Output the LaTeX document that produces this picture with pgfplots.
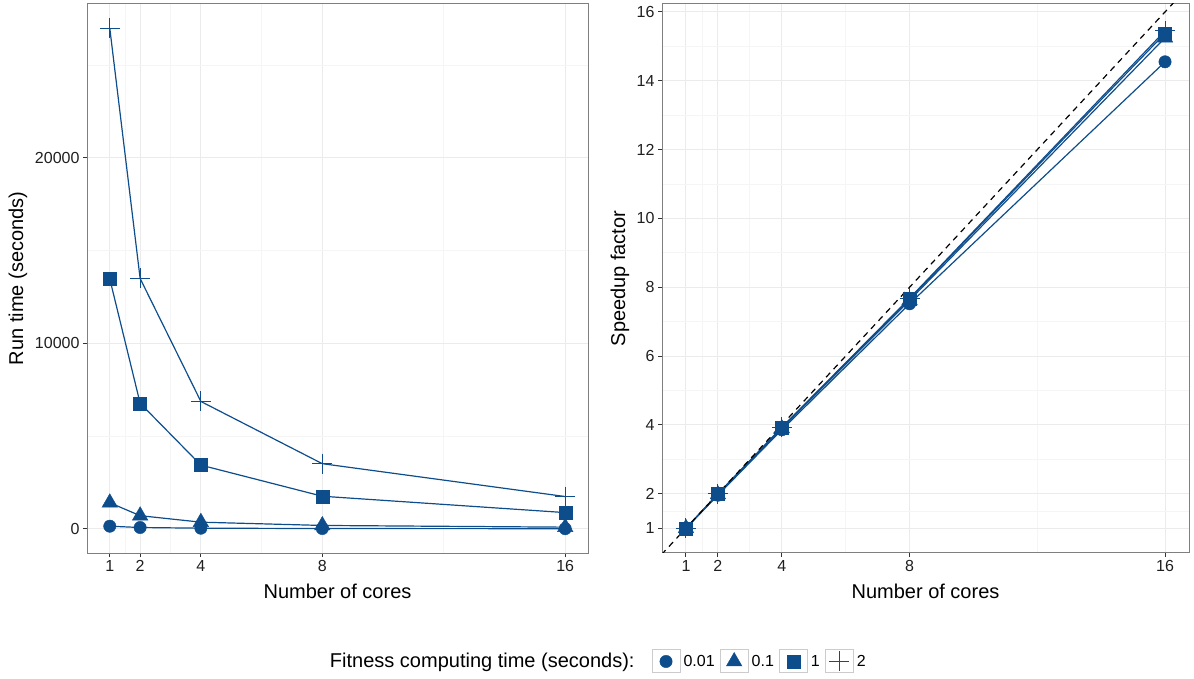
\documentclass[border=0pt]{standalone}
\usepackage{fontspec}
\setmainfont{Liberation Sans}
\usepackage{pgfplots}
\usepackage{pgfplotstable}
\pgfplotsset{compat=1.18}
\definecolor{ser}{HTML}{0E4D8C}
\definecolor{gmaj}{HTML}{EBEBEB}
\definecolor{gmin}{HTML}{F5F5F5}
\definecolor{framec}{HTML}{7F7F7F}
\definecolor{tickc}{HTML}{333333}
\definecolor{keyb}{HTML}{CCCCCC}

\pgfplotstableread{
cores c001 c01 c1 c2
1 145 1410 13480 27000
2 74 712 6774 13500
4 38 362 3439 6870
8 19 185 1760 3515
16 10 93 878 1744
}\runtime

\pgfplotstableread{
cores c001 c01 c1 c2
1 1 1 1 1
2 1.96 1.98 1.99 2.00
4 3.86 3.90 3.92 3.93
8 7.52 7.62 7.66 7.68
16 14.55 15.25 15.38 15.45
}\speedup

\pgfplotsset{
 myaxis/.style={
  scale only axis, anchor=south west,
  xmin=0.25, xmax=16.75,
  xtick={1,2,4,8,16},
  minor xtick={1.5,3,6,12},
  grid=both,
  major grid style={gmaj, line width=1bp},
  minor grid style={gmin, line width=0.8bp},
  tick align=outside,
  tick pos=left,
  major tick length=4bp,
  minor tick length=0pt,
  major tick style={tickc, line width=1bp},
  axis line style={framec, line width=1bp},
  tick label style={font=\fontsize{16bp}{18bp}\selectfont, text=black!88},
  label style={font=\fontsize{20bp}{24bp}\selectfont},
  /pgf/number format/assume math mode=true,
  /pgf/number format/1000 sep={},
  scaled y ticks=false,
  xlabel style={at={(axis description cs:0.5,-0.0692)}, anchor=center},
  xlabel={Number of cores},
  linep/.style={ser, line width=1.2bp, mark=none, forget plot},
  markp/.style={ser, only marks, mark options={solid, fill=ser},
     legend image code/.code={
       \draw[keyb, line width=1bp, fill=white] (-14bp,-11.5bp) rectangle (14bp,11.5bp);
       \draw[ser, ##1] plot coordinates {(0bp,0bp)};
     }},
 }
}

\begin{document}
\begin{tikzpicture}
\useasboundingbox (0bp,0bp) rectangle (1194bp,679bp);

\begin{axis}[myaxis,
  at={(87bp,126bp)}, width=501bp, height=549bp,
  ymin=-1300, ymax=28300,
  ytick={0,10000,20000},
  minor ytick={5000,15000,25000},
  ylabel={Run time (seconds)},
  ylabel style={at={(axis description cs:-0.1377,0.5)}, anchor=center},
  legend columns=5,
  legend style={at={(axis description cs:0.479,-0.1976)}, anchor=west,
    draw=none, fill=none, inner sep=0pt, outer sep=0pt,
    font=\fontsize{16bp}{18bp}\selectfont,
    nodes={inner sep=0pt},
    /tikz/every odd column/.append style={column sep=3bp},
    /tikz/every even column/.append style={column sep=5bp}},
]
\addlegendimage{empty legend}
\addlegendentry{\fontsize{20bp}{24bp}\selectfont Fitness computing time (seconds):\hspace*{12bp}\null}
\addplot[linep] table[x=cores,y=c001]{\runtime};
\addplot[linep] table[x=cores,y=c01]{\runtime};
\addplot[linep] table[x=cores,y=c1]{\runtime};
\addplot[linep] table[x=cores,y=c2]{\runtime};
\addplot[markp, mark=*, mark size=6.2bp] table[x=cores,y=c001]{\runtime};
\addlegendentry{0.01}
\addplot[markp, mark=triangle*, mark size=9bp] table[x=cores,y=c01]{\runtime};
\addlegendentry{0.1}
\addplot[markp, mark=square*, mark size=6.5bp] table[x=cores,y=c1]{\runtime};
\addlegendentry{1}
\addplot[markp, mark=+, mark size=10bp, line width=1bp] table[x=cores,y=c2]{\runtime};
\addlegendentry{2}
\end{axis}

\begin{axis}[myaxis,
  at={(662bp,126bp)}, width=527bp, height=549bp,
  ymin=0.28, ymax=16.23,
  ytick={1,2,4,6,8,10,12,14,16},
  minor ytick={1.5,3,5,7,9,11,13,15},
  ylabel={Speedup factor},
  ylabel style={at={(axis description cs:-0.0797,0.5)}, anchor=center},
]
\addplot[linep] table[x=cores,y=c001]{\speedup};
\addplot[linep] table[x=cores,y=c01]{\speedup};
\addplot[linep] table[x=cores,y=c1]{\speedup};
\addplot[linep] table[x=cores,y=c2]{\speedup};
\addplot[markp, mark=*, mark size=6.2bp] table[x=cores,y=c001]{\speedup};
\addplot[markp, mark=triangle*, mark size=9bp] table[x=cores,y=c01]{\speedup};
\addplot[markp, mark=square*, mark size=6.5bp] table[x=cores,y=c1]{\speedup};
\addplot[markp, mark=+, mark size=10bp, line width=1bp] table[x=cores,y=c2]{\speedup};
\addplot[black, line width=1.2bp, dash pattern=on 6bp off 5bp, forget plot] coordinates {(0,0) (17,17)};
\end{axis}
\end{tikzpicture}
\end{document}
